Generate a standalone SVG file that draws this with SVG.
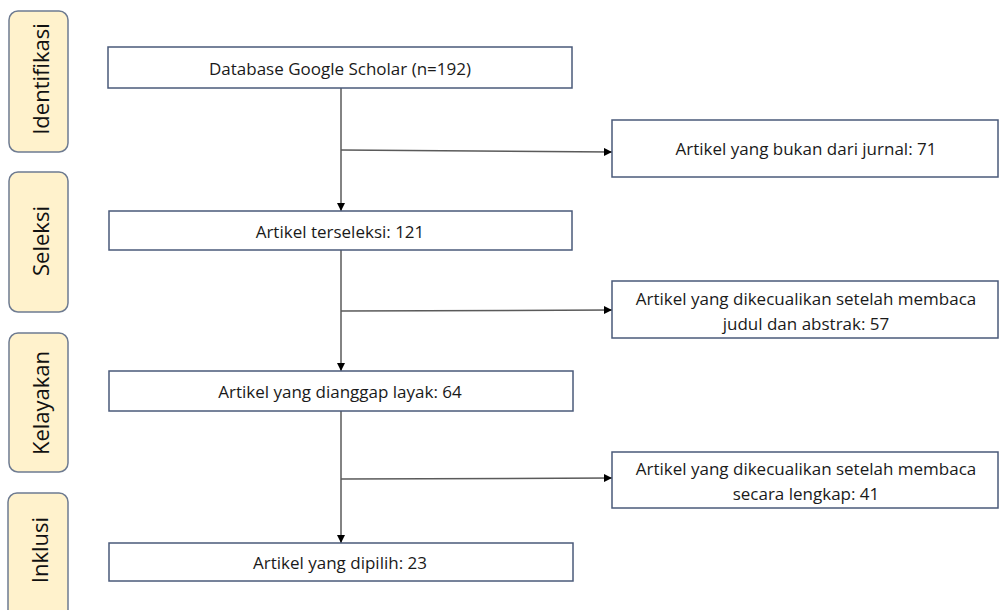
<svg xmlns="http://www.w3.org/2000/svg" width="999" height="610" viewBox="0 0 999 610">
<style>
.stage{fill:#FFF2CC;stroke:#6E7B91;stroke-width:1.5}
.box{fill:#FFFFFF;stroke:#4A5A7A;stroke-width:1.5}
.t{font-family:"Open Sans","Liberation Sans",sans-serif;font-size:17px;fill:#1a1a1a;text-anchor:middle;dominant-baseline:central}
.st{font-family:"Open Sans","Liberation Sans",sans-serif;font-size:22px;fill:#111;text-anchor:middle;dominant-baseline:central}
.c{fill:none;stroke:#5a5a5a;stroke-width:1.5}
</style>
<defs>
<marker id="ah" viewBox="0 0 10 10" refX="10" refY="5" markerWidth="8" markerHeight="8" markerUnits="userSpaceOnUse" orient="auto"><path d="M0,0 L10,5 L0,10 z" fill="#000"/></marker>
</defs>
<rect width="999" height="610" fill="#fff"/>
<g id="stage-identifikasi"><rect class="stage" x="9" y="11" width="59" height="141" rx="9"/><text class="st" transform="translate(40,79) rotate(-90)">Identifikasi</text></g>
<g id="stage-seleksi"><rect class="stage" x="9" y="172" width="59" height="140" rx="9"/><text class="st" transform="translate(40,241) rotate(-90)">Seleksi</text></g>
<g id="stage-kelayakan"><rect class="stage" x="9" y="333" width="59" height="139" rx="9"/><text class="st" transform="translate(40,403) rotate(-90)">Kelayakan</text></g>
<g id="stage-inklusi"><rect class="stage" x="8" y="493" width="60" height="130" rx="9"/><text class="st" transform="translate(39,550) rotate(-90)">Inklusi</text></g>
<g id="connectors">
<line class="c" x1="341" y1="88" x2="341" y2="211" marker-end="url(#ah)"/>
<line class="c" x1="341" y1="150" x2="612" y2="152" marker-end="url(#ah)"/>
<line class="c" x1="341" y1="250" x2="341" y2="371" marker-end="url(#ah)"/>
<line class="c" x1="341" y1="311" x2="612" y2="310" marker-end="url(#ah)"/>
<line class="c" x1="341" y1="411" x2="341" y2="543" marker-end="url(#ah)"/>
<line class="c" x1="341" y1="479" x2="612" y2="478" marker-end="url(#ah)"/>
</g>
<g id="n-database"><rect class="box" x="108" y="47" width="464" height="41"/><text class="t" x="340" y="68">Database Google Scholar (n=192)</text></g>
<g id="n-terseleksi"><rect class="box" x="109" y="211" width="463" height="39"/><text class="t" x="340" y="231">Artikel terseleksi: 121</text></g>
<g id="n-layak"><rect class="box" x="109" y="371" width="464" height="40"/><text class="t" x="340" y="391">Artikel yang dianggap layak: 64</text></g>
<g id="n-dipilih"><rect class="box" x="109" y="543" width="464" height="38"/><text class="t" x="340" y="562">Artikel yang dipilih: 23</text></g>
<g id="n-bukan"><rect class="box" x="612" y="120" width="386" height="57"/><text class="t" x="806" y="148">Artikel yang bukan dari jurnal: 71</text></g>
<g id="n-abstrak"><rect class="box" x="612" y="281" width="386" height="57"/><text class="t" x="806" y="298">Artikel yang dikecualikan setelah membaca</text><text class="t" x="806" y="323">judul dan abstrak: 57</text></g>
<g id="n-lengkap"><rect class="box" x="612" y="452" width="386" height="56"/><text class="t" x="806" y="468">Artikel yang dikecualikan setelah membaca</text><text class="t" x="806" y="493">secara lengkap: 41</text></g>
</svg>
